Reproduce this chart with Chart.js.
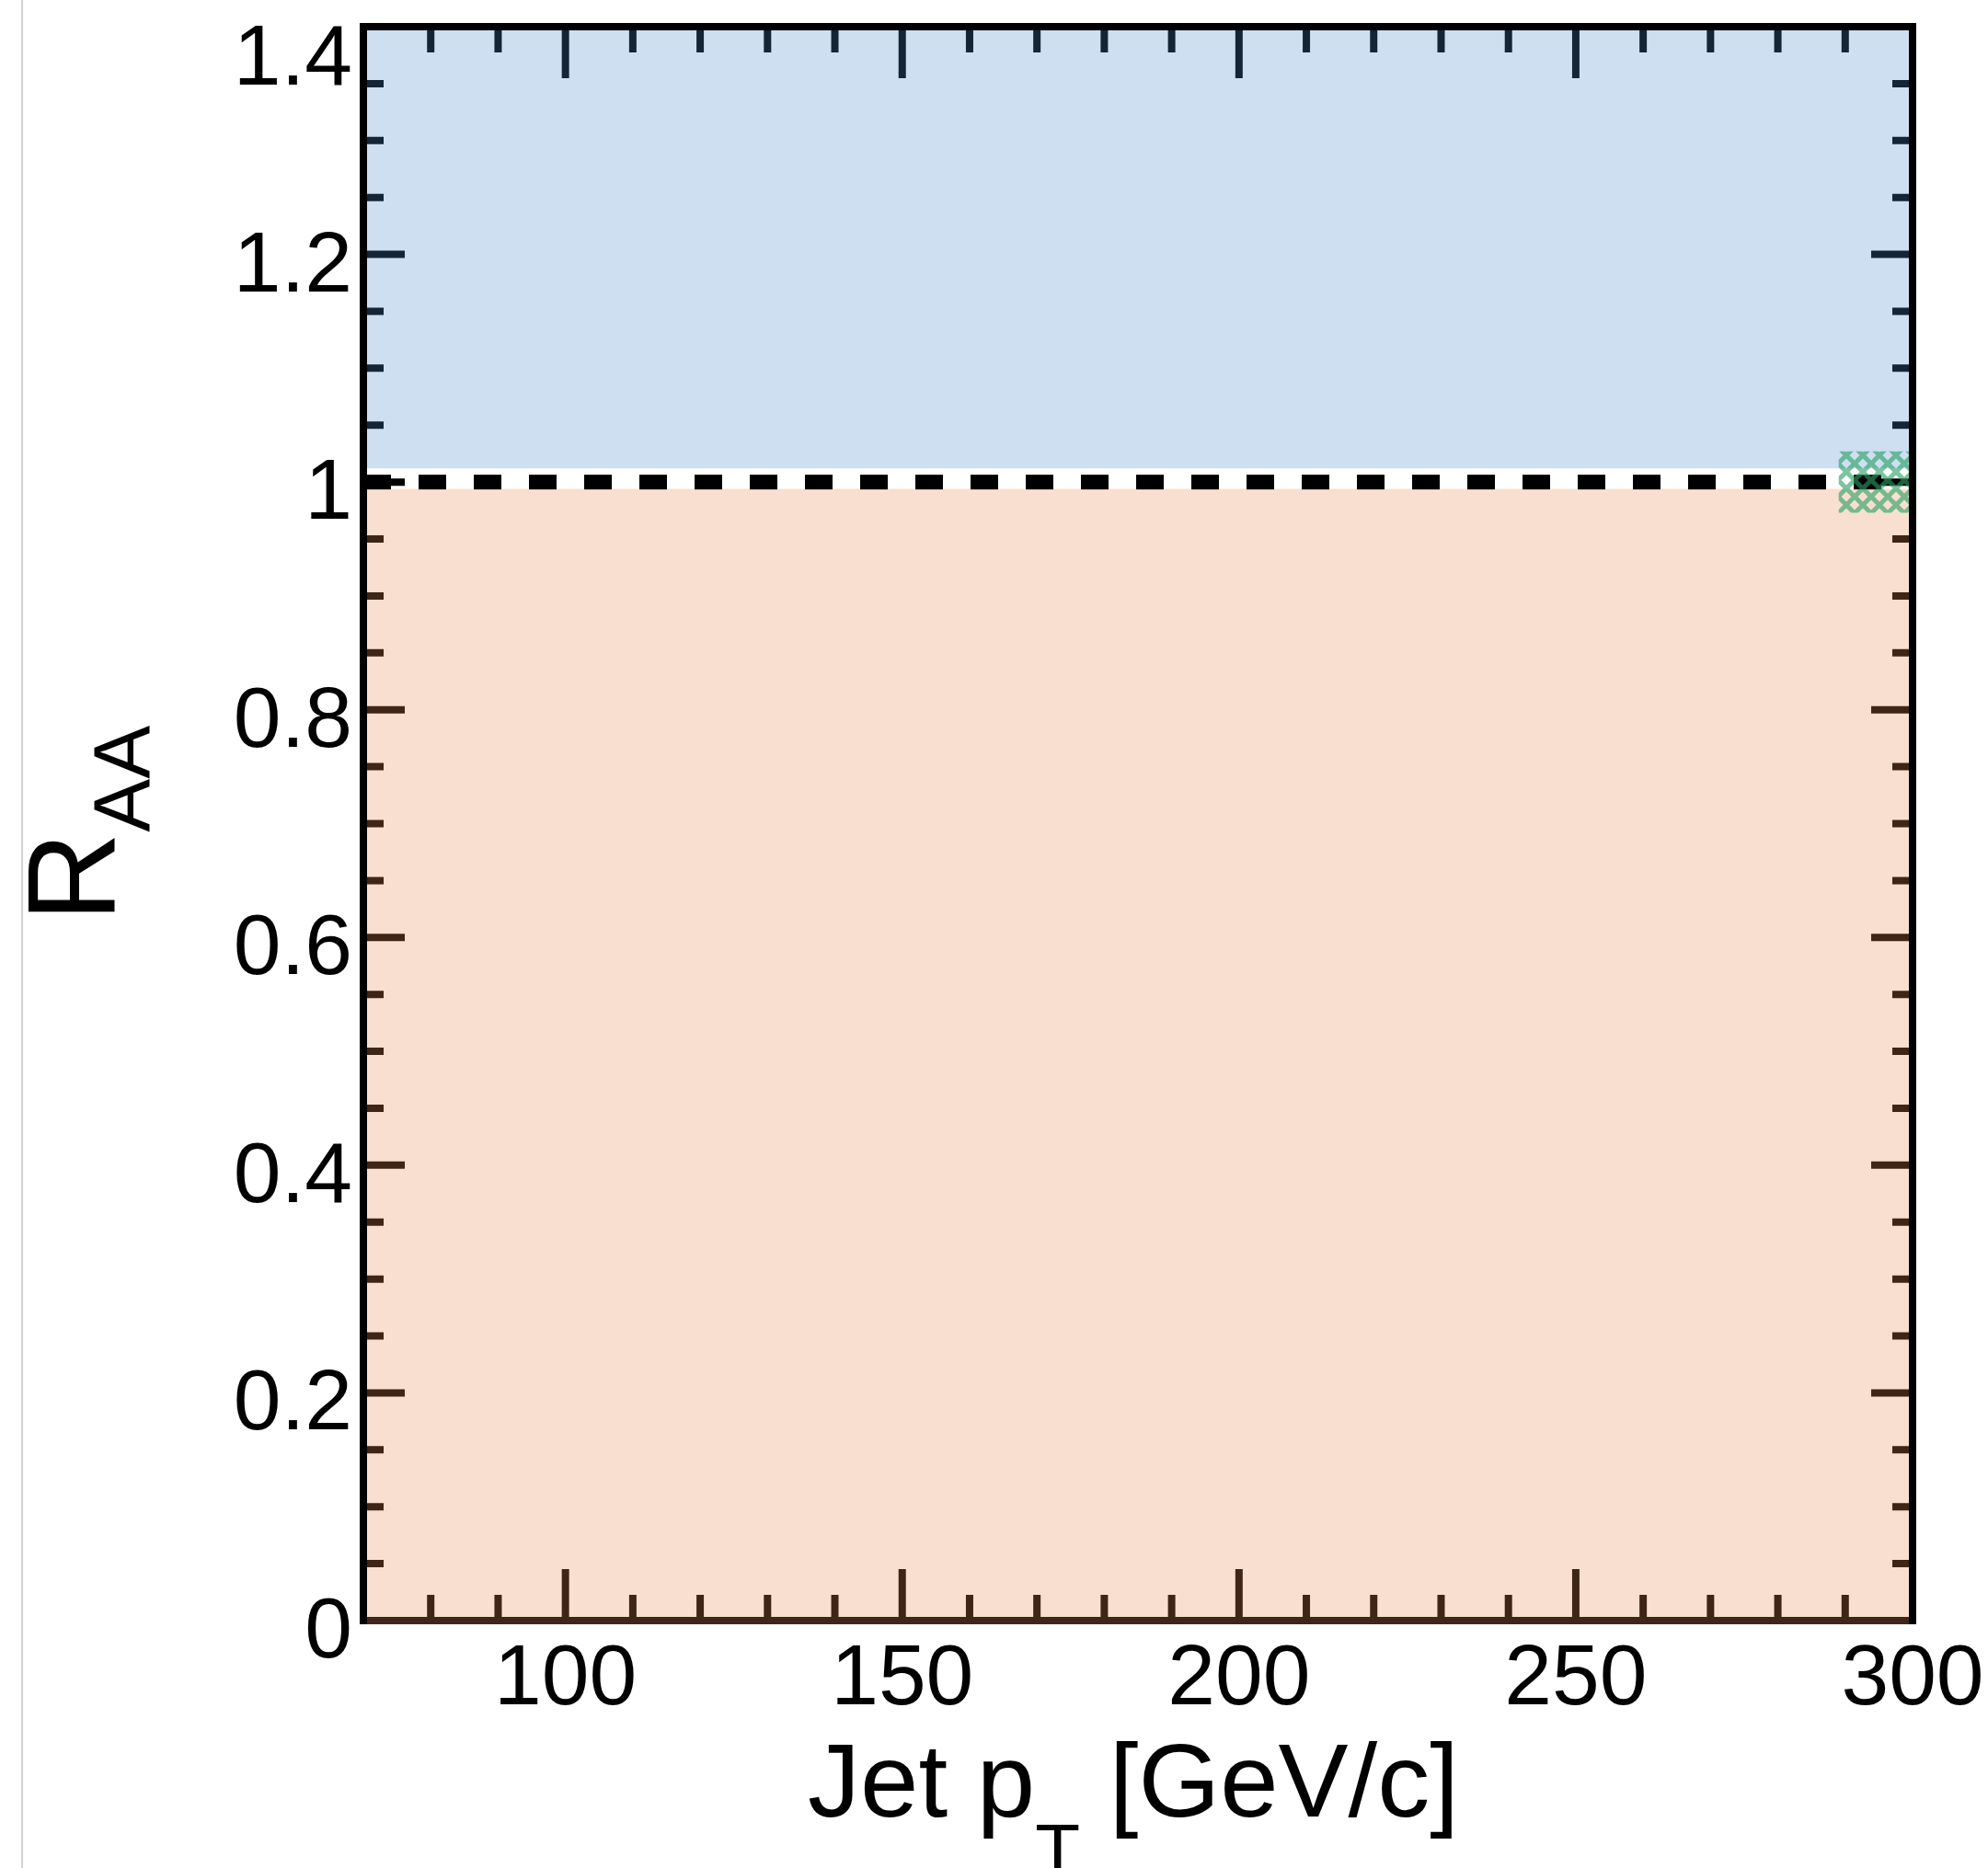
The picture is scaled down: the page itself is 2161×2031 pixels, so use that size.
<!DOCTYPE html>
<html>
<head>
<meta charset="utf-8">
<title>Jet RAA</title>
<script src="https://cdn.jsdelivr.net/npm/chart.js@4.4.1/dist/chart.umd.min.js"></script>
<style>
  html, body { margin: 0; padding: 0; background: #fff; }
  canvas { display: block; }
</style>
</head>
<body>
<canvas id="raa-chart" width="2161" height="2031"></canvas>
<script>
// axis ranges
const xRange = [70, 300];
const yRange = [0, 1.4];

// tick labels
const xTickValues = [100, 150, 200, 250, 300];
const xTickLabels = ['100', '150', '200', '250', '300'];
const yTickValues = [0, 0.2, 0.4, 0.6, 0.8, 1, 1.2, 1.4];
const yTickLabels = ['0', '0.2', '0.4', '0.6', '0.8', '1', '1.2', '1.4'];
const xMinorStep = 10;
const yMinorStep = 0.05;

// shaded regions above / below unity
const enhancementBand = [1.012, 1.4];
const suppressionBand = [0, 0.994];

// unity reference line
const unityLine = 1;

// normalisation uncertainty box at the right edge
const normBoxX = [289, 300];
const normBoxY = [0.973, 1.027];

const FONT = '"Liberation Sans", Arial, Helvetica, sans-serif';

function makeHatch(ctx) {
  const tile = document.createElement('canvas');
  tile.width = 18;
  tile.height = 18;
  const g = tile.getContext('2d');
  g.strokeStyle = 'rgba(40,160,100,0.62)';
  g.lineWidth = 5;
  g.beginPath();
  g.moveTo(0, 0); g.lineTo(18, 18);
  g.moveTo(18, 0); g.lineTo(0, 18);
  g.stroke();
  return ctx.createPattern(tile, 'repeat');
}

// ticks go under the translucent bands, frame and text on top
const rootStyleAxes = {
  id: 'rootStyleAxes',
  beforeDatasetsDraw(chart) {
    const { ctx, chartArea: a, scales: { x, y } } = chart;
    ctx.save();
    ctx.strokeStyle = '#000';
    ctx.lineWidth = 8;
    ctx.lineCap = 'butt';
    ctx.beginPath();
    for (let i = 1; xRange[0] + i * xMinorStep < xRange[1]; i++) {
      const v = xRange[0] + i * xMinorStep;
      const len = xTickValues.includes(v) ? 56 : 28;
      const px = x.getPixelForValue(v);
      ctx.moveTo(px, a.bottom); ctx.lineTo(px, a.bottom - len);
      ctx.moveTo(px, a.top); ctx.lineTo(px, a.top + len);
    }
    for (let i = 1; i * yMinorStep < yRange[1] - 1e-9; i++) {
      const v = +(i * yMinorStep).toFixed(3);
      const major = yTickValues.some(t => Math.abs(t - v) < 1e-6);
      const len = major ? 45 : 22;
      const py = y.getPixelForValue(v);
      ctx.moveTo(a.left, py); ctx.lineTo(a.left + len, py);
      ctx.moveTo(a.right, py); ctx.lineTo(a.right - len, py);
    }
    ctx.stroke();
    ctx.restore();
  },
  afterDatasetsDraw(chart) {
    const { ctx, chartArea: a, scales: { x, y } } = chart;
    ctx.save();

    // frame
    ctx.lineWidth = 8;
    ctx.strokeStyle = '#40261a';
    ctx.beginPath();
    ctx.moveTo(a.left, a.bottom); ctx.lineTo(a.right, a.bottom);
    ctx.stroke();
    ctx.strokeStyle = '#000';
    ctx.beginPath();
    ctx.moveTo(a.left, a.bottom + 4); ctx.lineTo(a.left, a.top - 4);
    ctx.moveTo(a.left - 4, a.top); ctx.lineTo(a.right + 4, a.top);
    ctx.moveTo(a.right, a.top - 4); ctx.lineTo(a.right, a.bottom + 4);
    ctx.stroke();

    ctx.fillStyle = '#000';

    // y tick labels
    ctx.font = '93px ' + FONT;
    ctx.textAlign = 'right';
    ctx.textBaseline = 'alphabetic';
    yTickValues.forEach((v, i) => {
      const shift = v === yRange[1] ? 23 : 0;
      ctx.fillText(yTickLabels[i], a.left - 12, y.getPixelForValue(v) + 40 + shift);
    });

    // x tick labels
    ctx.textAlign = 'center';
    xTickValues.forEach((v, i) => {
      ctx.fillText(xTickLabels[i], x.getPixelForValue(v), a.bottom + 91);
    });

    // x title: Jet p_T [GeV/c]
    ctx.textAlign = 'left';
    const bigFont = '114px ' + FONT;
    const subFont = '80px ' + FONT;
    ctx.font = bigFont;
    const w1 = ctx.measureText('Jet p').width;
    const w3 = ctx.measureText(' [GeV/c]').width;
    ctx.font = subFont;
    const w2 = ctx.measureText('T').width;
    let tx = (a.left + a.right) / 2 - 5 - (w1 + w2 + w3) / 2;
    const base = a.bottom + 213;
    ctx.font = bigFont;
    ctx.fillText('Jet p', tx, base);
    tx += w1;
    ctx.font = subFont;
    ctx.fillText('T', tx, base + 64);
    tx += w2;
    ctx.font = bigFont;
    ctx.fillText(' [GeV/c]', tx, base);

    // y title: R_AA
    ctx.translate(a.left - 270, (a.top + a.bottom) / 2);
    ctx.rotate(-Math.PI / 2);
    ctx.font = '135px ' + FONT;
    const wR = ctx.measureText('R').width;
    ctx.font = '87px ' + FONT;
    const wA = ctx.measureText('AA').width;
    const sx = -(wR + wA) / 2;
    ctx.font = '135px ' + FONT;
    ctx.fillText('R', sx, 0);
    ctx.font = '87px ' + FONT;
    ctx.fillText('AA', sx + wR, 38);
    ctx.restore();

    // thin page edge on the left
    ctx.save();
    ctx.fillStyle = '#d2d2d2';
    ctx.fillRect(23, 0, 2, chart.height);
    ctx.restore();
  }
};

const canvas = document.getElementById('raa-chart');
const hatch = makeHatch(canvas.getContext('2d'));

const chart = new Chart(canvas, {
  type: 'line',
  data: {
    datasets: [
      {
        label: 'Normalisation uncertainty',
        data: normBoxX.map(v => ({ x: v, y: normBoxY[1] })),
        fill: { value: normBoxY[0] },
        backgroundColor: hatch,
        borderColor: 'transparent',
        borderWidth: 0,
        pointRadius: 0,
        order: 1
      },
      {
        label: 'Unity',
        data: xRange.map(v => ({ x: v, y: unityLine })),
        borderColor: '#000',
        borderWidth: 16,
        borderDash: [30, 30],
        pointRadius: 0,
        fill: false,
        order: 2
      },
      {
        label: 'Enhancement',
        data: xRange.map(v => ({ x: v, y: enhancementBand[1] })),
        fill: { value: enhancementBand[0] },
        backgroundColor: 'rgba(70,137,199,0.27)',
        borderColor: 'transparent',
        borderWidth: 0,
        pointRadius: 0,
        order: 3
      },
      {
        label: 'Suppression',
        data: xRange.map(v => ({ x: v, y: suppressionBand[1] })),
        fill: { value: suppressionBand[0] },
        backgroundColor: 'rgba(233,137,77,0.27)',
        borderColor: 'transparent',
        borderWidth: 0,
        pointRadius: 0,
        order: 3
      }
    ]
  },
  options: {
    responsive: false,
    animation: false,
    events: [],
    layout: { padding: { left: 395, top: 29, right: 82, bottom: 269 } },
    plugins: {
      legend: { display: false },
      tooltip: { enabled: false }
    },
    scales: {
      x: { type: 'linear', min: xRange[0], max: xRange[1], display: false },
      y: { type: 'linear', min: yRange[0], max: yRange[1], display: false }
    }
  },
  plugins: [rootStyleAxes]
});
</script>
</body>
</html>
